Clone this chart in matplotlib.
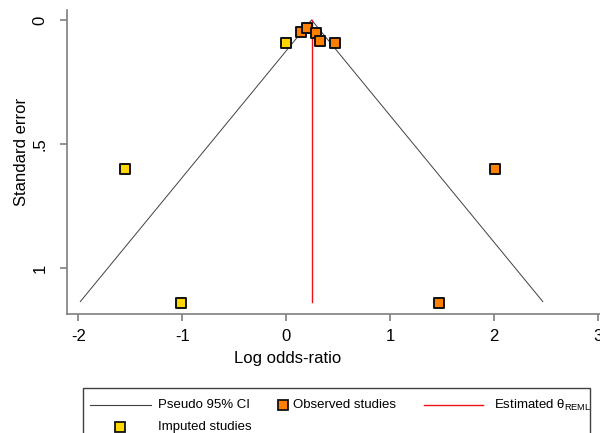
import numpy as np
import matplotlib
matplotlib.use("Agg")
import matplotlib.pyplot as plt
from matplotlib.lines import Line2D
from matplotlib.patches import Rectangle

plt.rcParams["font.family"] = ["Liberation Sans", "DejaVu Sans"]
plt.rcParams["mathtext.fontset"] = "custom"
plt.rcParams["mathtext.rm"] = "Liberation Sans"
plt.rcParams["axes.unicode_minus"] = False

# data
theta = 0.245          # estimated theta (REML)
se_max = 1.135         # largest standard error used for the pseudo CI

obs_lor = [0.14, 0.205, 0.29, 0.33, 0.47, 2.01, 1.47]
obs_se = [0.047, 0.033, 0.053, 0.084, 0.094, 0.60, 1.14]

imp_lor = [0.0, -1.55, -1.01]
imp_se = [0.094, 0.60, 1.14]

xticks = [-2, -1, 0, 1, 2, 3]
yticks = [0, 0.5, 1]
yticklabels = ["0", ".5", "1"]

orange = "#FF8000"
yellow = "#FFD700"
gray = "#7f7f7f"

W, H = 600, 433
fig = plt.figure(figsize=(W / 100, H / 100), dpi=100)
ax = fig.add_axes([67.3 / W, 1 - 314 / H, (W - 67.3) / W, (314 - 10) / H])

# pseudo 95% CI funnel
se_line = np.array([se_max, 0.0, se_max])
lor_line = np.array([theta - 1.96 * se_max, theta, theta + 1.96 * se_max])
ax.plot(lor_line, se_line, color="#404040", lw=0.7, zorder=1)

# estimated theta
ax.plot([theta, theta], [0, se_max], color="#f01018", lw=1.0, zorder=2)

ax.scatter(imp_lor, imp_se, marker="s", s=62, facecolor=yellow,
           edgecolor="#111111", linewidth=1.4, zorder=3)
ax.scatter(obs_lor, obs_se, marker="s", s=62, facecolor=orange,
           edgecolor="#111111", linewidth=1.4, zorder=4)

ax.set_xlim(-2.105, 3.02)
ax.set_ylim(1.185, -0.04)
ax.set_xticks(xticks)
ax.set_yticks(yticks)
ax.set_yticklabels(yticklabels, rotation=90, va="center")
ax.tick_params(colors=gray, labelcolor="black", labelsize=12, length=5,
               width=1.2)
ax.tick_params(axis="y", pad=9)
ax.tick_params(axis="x", pad=6)
for side in ["top", "right"]:
    ax.spines[side].set_visible(False)
for side in ["left", "bottom"]:
    ax.spines[side].set_color(gray)
    ax.spines[side].set_linewidth(1.2)

fig.text(22 / W, 1 - 152 / H, "Standard error", rotation=90, fontsize=12,
         ha="center", va="center")
fig.text(288 / W, 1 - 358 / H, "Log odds-ratio", fontsize=12,
         ha="center", va="center")

# legend box drawn in figure pixels
def fx(px):
    return px / W

def fy(py):
    return 1 - py / H

fig.patches.append(Rectangle((fx(83), fy(440)), fx(590) - fx(83),
                             fy(388) - fy(440), transform=fig.transFigure,
                             fill=False, edgecolor="#404040", lw=1.0))
r1, r2 = 405, 427
fs = 9.5
fig.lines.append(Line2D([fx(90), fx(151)], [fy(r1), fy(r1)],
                        transform=fig.transFigure, color="#404040", lw=0.8))
fig.text(fx(158), fy(r1), "Pseudo 95% CI", fontsize=fs, va="center")
fig.lines.append(Line2D([fx(283)], [fy(r1)], transform=fig.transFigure,
                        marker="s", ms=7.5, mfc=orange, mec="#111111",
                        mew=1.3, ls="none"))
fig.text(fx(293), fy(r1), "Observed studies", fontsize=fs, va="center")
fig.lines.append(Line2D([fx(424), fx(483)], [fy(r1), fy(r1)],
                        transform=fig.transFigure, color="#f01018", lw=1.0))
fig.text(fx(494), fy(r1), r"Estimated θ$_{\mathrm{REML}}$", fontsize=fs,
         va="center")
fig.lines.append(Line2D([fx(120)], [fy(r2)], transform=fig.transFigure,
                        marker="s", ms=7.5, mfc=yellow, mec="#111111",
                        mew=1.3, ls="none"))
fig.text(fx(158), fy(r2), "Imputed studies", fontsize=fs, va="center")

fig.savefig("out.png", dpi=100)
